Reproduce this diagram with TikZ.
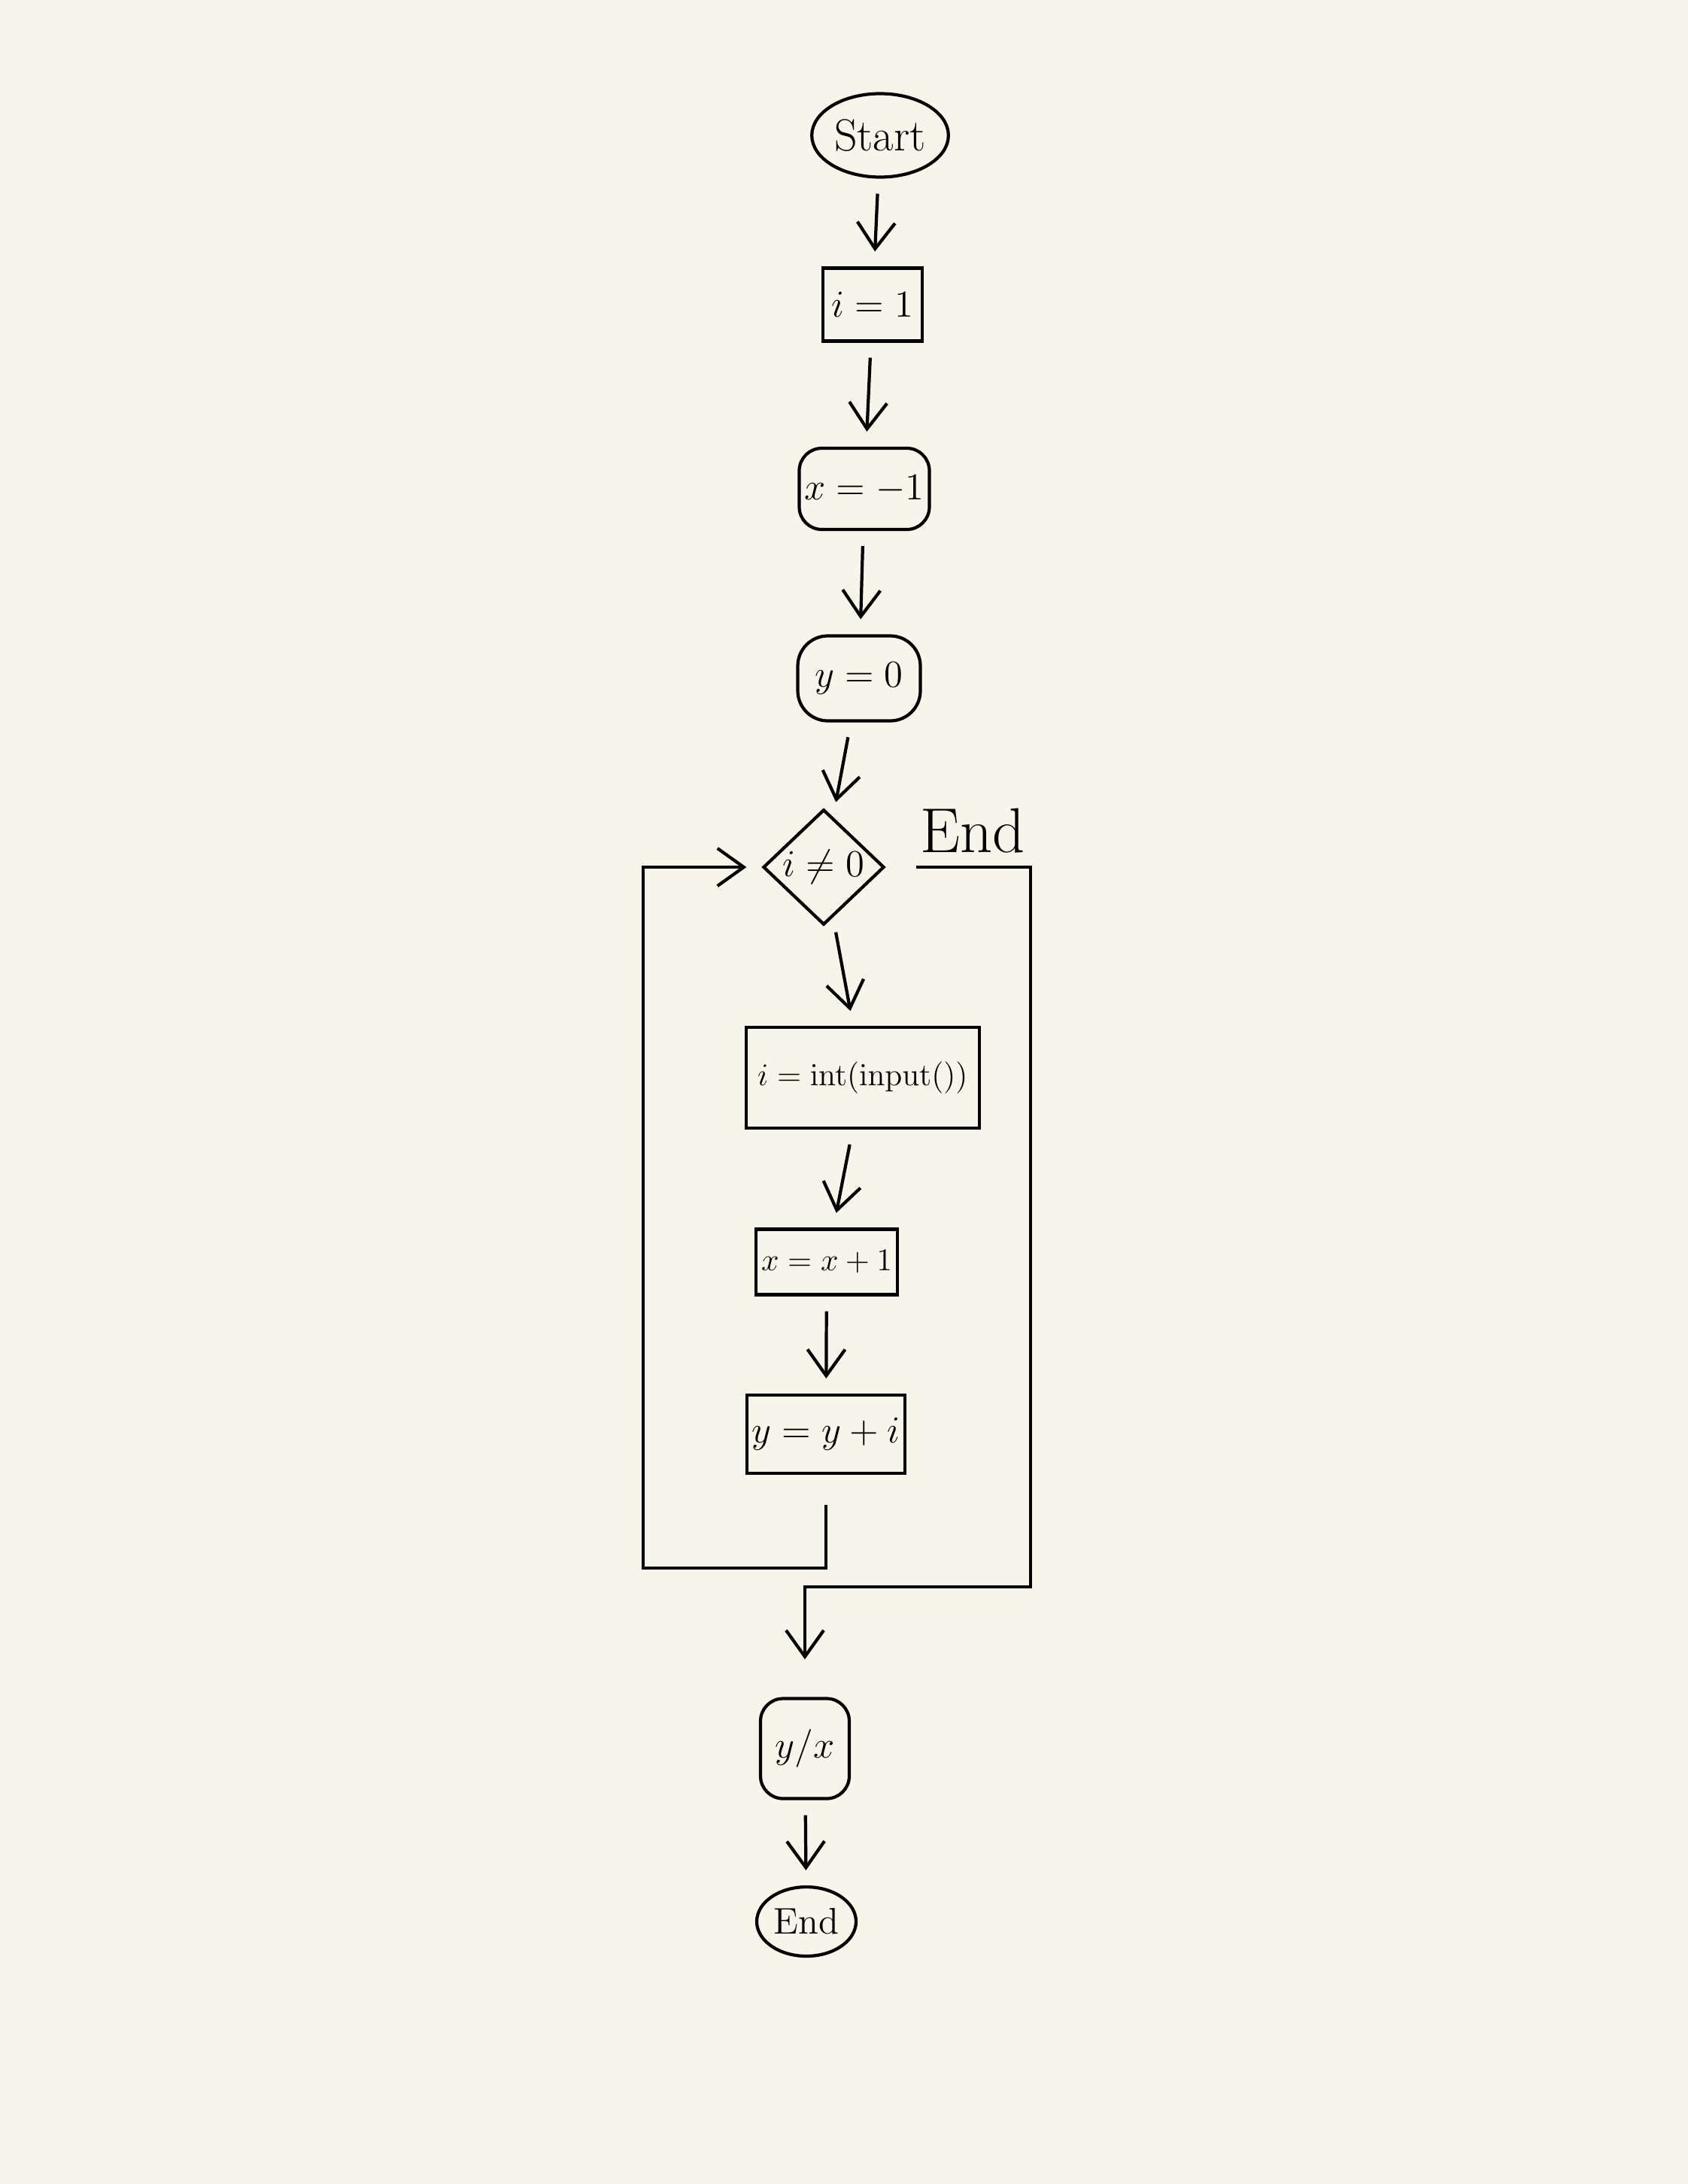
\documentclass[tikz,border=0pt]{standalone}
\usepackage{tikz}
\usetikzlibrary{shapes.geometric, arrows.meta}
\definecolor{paper}{RGB}{247,245,234}
\tikzstyle{startstop} = [ellipse, minimum width=1.48cm, minimum height=1.11cm, inner sep=1pt, text centered, draw=black, line width=1.2pt, font=\fontsize{17}{20}\selectfont]
\tikzstyle{process} = [rectangle, minimum width=1.32cm, minimum height=0.97cm, inner sep=2pt, text centered, draw=black, line width=1.2pt, font=\fontsize{14}{17}\selectfont]
\tikzstyle{output} = [rectangle, rounded corners=0.3cm, minimum width=1.18cm, minimum height=1.33cm, inner sep=2pt, text centered, draw=black, line width=1.2pt, font=\fontsize{14}{17}\selectfont]
\tikzstyle{decision} = [diamond, minimum width=1.61cm, minimum height=1.51cm, inner sep=0pt, text centered, draw=black, line width=1.2pt, font=\fontsize{14}{17}\selectfont]
\tikzstyle{arrow} = [line width=1.2pt, -{Straight Barb[length=3.5mm,width=5mm]}, shorten <=0.2cm, shorten >=0.2cm]

\begin{document}
\begin{tikzpicture}[node distance=2.5cm]

\useasboundingbox (0,0) rectangle (22.44,-29.04);
\fill [paper] (0,0) rectangle (22.44,-29.04);

\node (start) [startstop] at (11.70,-1.80) {Start};
\node (seti) [process, below of=start, xshift=-0.10cm, yshift=0.25cm] {$i=1$};
\node (setx) [process, rounded corners=0.3cm, minimum width=1.61cm, minimum height=1.08cm, below of=seti, xshift=-0.11cm, yshift=0.05cm] {$x=-1$};
\node (sety) [process, rounded corners=0.4cm, minimum width=1.63cm, minimum height=1.13cm, below of=setx, xshift=-0.07cm, yshift=-0.02cm] {$y=0$};
\node (cond) [decision, below of=sety, xshift=-0.47cm, yshift=-0.01cm] {$i\neq 0$};
\node (readi) [process, minimum width=3.10cm, minimum height=1.34cm, font=\fontsize{13}{16}\selectfont, below of=cond, xshift=0.52cm, yshift=-0.30cm] {$i=\mathrm{int(input())}$};
\node (incx) [process, minimum width=1.50cm, minimum height=0.87cm, font=\fontsize{13}{16}\selectfont, below of=readi, xshift=-0.48cm, yshift=0.05cm] {$x=x+1$};
\node (addy) [process, minimum width=1.78cm, minimum height=1.04cm, below of=incx, xshift=-0.01cm, yshift=0.21cm] {$y=y+i$};
\node (out) [output, below of=addy, xshift=-0.28cm, yshift=-1.68cm] {$y/x$};
\node (stop) [startstop, minimum width=1.14cm, minimum height=0.92cm, font=\fontsize{14}{17}\selectfont, below of=out, xshift=0.02cm, yshift=0.20cm] {End};
\coordinate (back) at (8.55,-20.85);
\coordinate (meet) at (13.70,-21.10);

\draw [arrow] (start) -- (seti);
\draw [arrow] (seti) -- (setx);
\draw [arrow] (setx) -- (sety);
\draw [arrow] (sety) -- (cond);
\draw [arrow] (cond) -- (readi);
\draw [arrow] (readi) -- (incx);
\draw [arrow] (incx) -- (addy);
\draw [arrow, shorten <=0.4cm] (addy) |- (back) |- (cond);
\draw [arrow, shorten <=0.4cm, shorten >=0.5cm] (cond) -| (meet) node[pos=0.3, above, yshift=0.05cm, font=\fontsize{24}{28}\selectfont] (endlabel) {End} -| (out);
\draw [arrow] (out) -- (stop);

\end{tikzpicture}
\end{document}
